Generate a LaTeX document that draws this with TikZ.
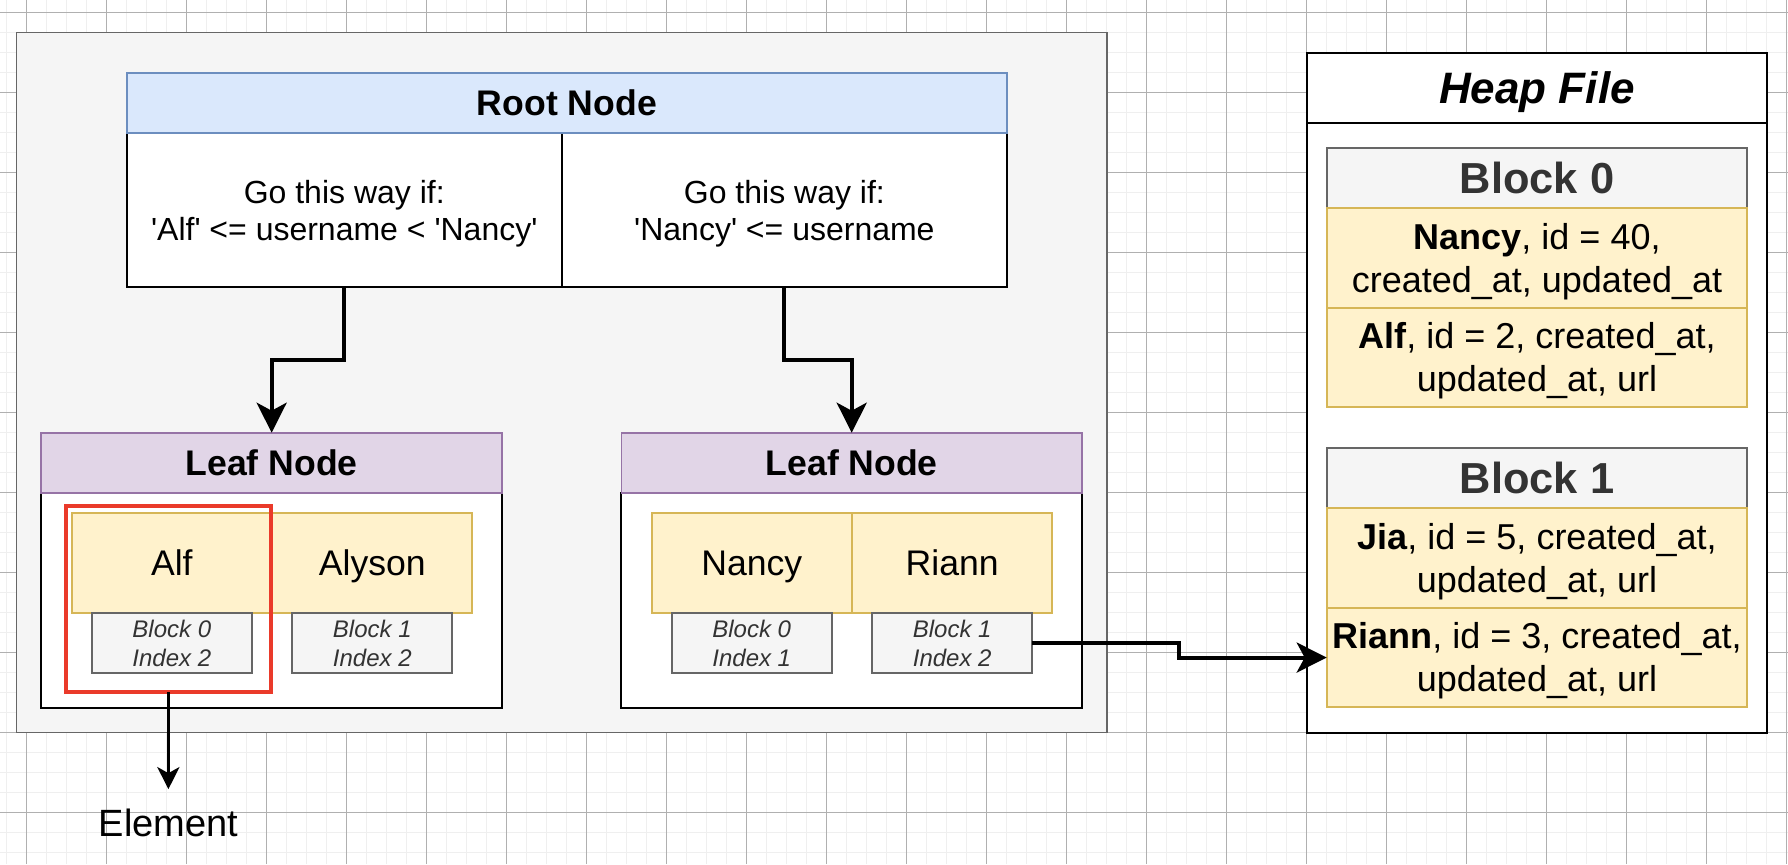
\documentclass[tikz,border=0pt]{standalone}
\usepackage{fontspec}
\setmainfont{Liberation Sans}
\usetikzlibrary{arrows.meta}
\definecolor{gridminor}{HTML}{EFEFEF}
\definecolor{gridmajor}{HTML}{B0B0B0}
\definecolor{panelgray}{HTML}{F5F5F5}
\definecolor{panelline}{HTML}{666666}
\definecolor{rootfill}{HTML}{DAE8FC}
\definecolor{rootline}{HTML}{6C8EBF}
\definecolor{leaffill}{HTML}{E1D5E7}
\definecolor{leafline}{HTML}{9673A6}
\definecolor{keyfill}{HTML}{FFF2CC}
\definecolor{keyline}{HTML}{D6B656}
\definecolor{darktext}{HTML}{333333}
\definecolor{markred}{HTML}{EA3A2A}
\newcommand{\sq}{\textquotesingle}

\begin{document}
\begin{tikzpicture}[x=0.5pt, y=-0.5pt]
    \tikzstyle{grid_minor_style} = [line width=0.65pt, gridminor]
    \tikzstyle{grid_major_style} = [line width=0.45pt, gridmajor]
    \tikzstyle{box_style} = [rectangle, inner sep=0pt, outer sep=0pt, align=center, line width=0.85pt]
    \tikzstyle{panel_style} = [box_style, draw=panelline, fill=panelgray, line width=0.65pt]
    \tikzstyle{body_style} = [box_style, draw=black, fill=white, line width=1pt]
    \tikzstyle{rule_style} = [body_style, font=\fontsize{16}{18.65}\selectfont, text height=30pt, text depth=0pt]
    \tikzstyle{root_head_style} = [box_style, draw=rootline, fill=rootfill, font=\bfseries\fontsize{17.8}{21}\selectfont]
    \tikzstyle{leaf_head_style} = [box_style, draw=leafline, fill=leaffill, font=\bfseries\fontsize{17.8}{21}\selectfont]
    \tikzstyle{key_style} = [box_style, draw=keyline, fill=keyfill, minimum width=200*\pxl, minimum height=100.6*\pxl, font=\fontsize{17.8}{21}\selectfont, text height=12.7pt, text depth=0pt]
    \tikzstyle{ptr_style} = [box_style, draw=panelline, fill=panelgray, text=darktext, minimum width=160*\pxl, minimum height=60*\pxl, font=\itshape\fontsize{12}{14.5}\selectfont]
    \tikzstyle{block_head_style} = [box_style, draw=panelline, fill=panelgray, text=darktext, minimum width=420.6*\pxl, minimum height=60.6*\pxl, font=\bfseries\fontsize{21.7}{26}\selectfont]
    \tikzstyle{row_style} = [box_style, draw=keyline, fill=keyfill, minimum width=420.6*\pxl, minimum height=99.5*\pxl, font=\fontsize{18}{21.7}\selectfont, text height=34.7pt, text depth=0.3pt]
    \tikzstyle{arrow_style} = [-{Stealth[length=15pt, width=15pt, inset=4pt]}, line width=2pt, black]

    \def\pxl{0.5pt}

    \useasboundingbox (0,0) rectangle (1788,864);

    % grid of the canvas
    \fill[white] (0,0) rectangle (1788,864);
    \foreach \gx in {0,...,89} \draw[grid_minor_style] ({6.8+20*\gx},0) -- ({6.8+20*\gx},864);
    \foreach \gy in {0,...,42} \draw[grid_minor_style] (0,{12.7+20*\gy}) -- (1788,{12.7+20*\gy});
    \foreach \gx in {0,...,22} \draw[grid_major_style] ({26.8+80*\gx},0) -- ({26.8+80*\gx},864);
    \foreach \gy in {0,...,10} \draw[grid_major_style] (0,{12.7+80*\gy}) -- (1788,{12.7+80*\gy});

    % the index
    \node[panel_style, minimum width=1090.2*\pxl, minimum height=700*\pxl] (tree_panel) at (561.9, 382.7) {};

    \node[rule_style, minimum width=435.1*\pxl, minimum height=154*\pxl] (root_left) at (344.25, 210.3)
      {Go this way if:\\\sq Alf\sq{} <= username < \sq Nancy\sq};
    \node[rule_style, minimum width=445.2*\pxl, minimum height=154*\pxl] (root_right) at (784.4, 210.3)
      {Go this way if:\\\sq Nancy\sq{} <= username};
    \node[root_head_style, minimum width=880.3*\pxl, minimum height=60.6*\pxl] (root_head) at (566.85, 103) {Root Node};

    \node[body_style, minimum width=460.7*\pxl, minimum height=214.7*\pxl] (leaf_a_body) at (271.65, 600.65) {};
    \node[leaf_head_style, minimum width=460.7*\pxl, minimum height=60.6*\pxl] (leaf_a_head) at (271.65, 463) {Leaf Node};
    \node[body_style, minimum width=460.6*\pxl, minimum height=214.7*\pxl] (leaf_b_body) at (851.7, 600.65) {};
    \node[leaf_head_style, minimum width=460.6*\pxl, minimum height=60.6*\pxl] (leaf_b_head) at (851.7, 463) {Leaf Node};

    \node[key_style] (key_alf) at (171.8, 563) {Alf};
    \node[key_style] (key_alyson) at (372.3, 563) {Alyson};
    \node[key_style] (key_nancy) at (751.75, 563) {Nancy};
    \node[key_style] (key_riann) at (952.2, 563) {Riann};

    \node[ptr_style, anchor=north] (ptr_alf) at (key_alf.south) {Block 0\\Index 2};
    \node[ptr_style, anchor=north] (ptr_alyson) at (key_alyson.south) {Block 1\\Index 2};
    \node[ptr_style, anchor=north] (ptr_nancy) at (key_nancy.south) {Block 0\\Index 1};
    \node[ptr_style, anchor=north] (ptr_riann) at (key_riann.south) {Block 1\\Index 2};

    \draw[arrow_style] (root_left.south) -- ++(0,73) -| (leaf_a_head.north);
    \draw[arrow_style] (root_right.south) -- ++(0,73) -| (leaf_b_head.north);

    % one element picked out
    \node[box_style, draw=markred, line width=1.8pt, minimum width=205.2*\pxl, minimum height=186*\pxl] (elem_mark) at (168.4, 599) {};
    \node[font=\fontsize{19}{22}\selectfont, inner xsep=0pt, inner ysep=9.75pt] (elem_label) at (168.4, 823) {Element};
    \draw[-{Stealth[length=11pt, width=11pt, inset=3pt]}, line width=1.8pt] (elem_mark.south) -- (elem_label.north);

    % the heap file
    \node[body_style, minimum width=460.6*\pxl, minimum height=680*\pxl] (heap_box) at (1537, 392.7) {};
    \node[body_style, minimum width=460.6*\pxl, minimum height=70*\pxl, font=\bfseries\itshape\fontsize{22}{26}\selectfont, text height=15.8pt, text depth=0pt] (heap_title) at (1537, 87.7) {Heap File};

    \node[block_head_style] (block_zero) at (1537, 178) {Block 0};
    \node[row_style, anchor=north] (row_nancy) at (block_zero.south) {\textbf{Nancy}, id = 40,\\created\_at, updated\_at};
    \node[row_style, anchor=north] (row_alf) at (row_nancy.south) {\textbf{Alf}, id = 2, created\_at,\\updated\_at, url};

    \node[block_head_style] (block_one) at (1537, 478) {Block 1};
    \node[row_style, anchor=north] (row_jia) at (block_one.south) {\textbf{Jia}, id = 5, created\_at,\\updated\_at, url};
    \node[row_style, anchor=north] (row_riann) at (row_jia.south) {\textbf{Riann}, id = 3, created\_at,\\updated\_at, url};

    \draw[arrow_style] (ptr_riann.east) -- ++(147,0) |- (row_riann.west);
\end{tikzpicture}
\end{document}
